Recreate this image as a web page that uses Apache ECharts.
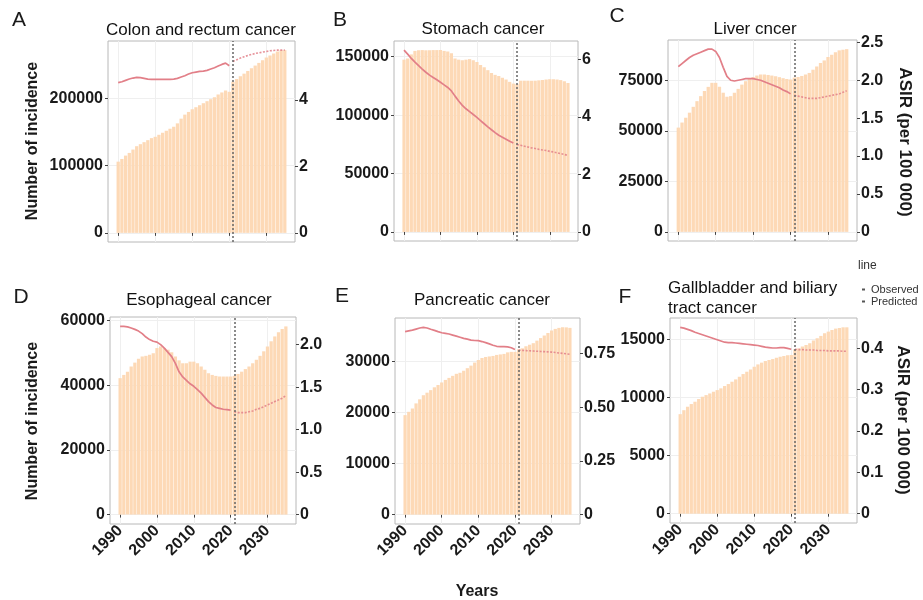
<!DOCTYPE html>
<html>
<head>
<meta charset="utf-8">
<script src="https://cdn.jsdelivr.net/npm/echarts@6/dist/echarts.min.js"></script>
<style>
html,body{margin:0;padding:0;background:#fff;}
#chart{width:923px;height:600px;}
</style>
</head>
<body>
<div id="chart"></div>
<script>
// ---------------- data ----------------
const years = [1990,1991,1992,1993,1994,1995,1996,1997,1998,1999,2000,2001,2002,2003,2004,2005,2006,2007,2008,2009,2010,2011,2012,2013,2014,2015,2016,2017,2018,2019,2020,2021,2022,2023,2024,2025,2026,2027,2028,2029,2030,2031,2032,2033,2034,2035];
const observedYears = [1990,1991,1992,1993,1994,1995,1996,1997,1998,1999,2000,2001,2002,2003,2004,2005,2006,2007,2008,2009,2010,2011,2012,2013,2014,2015,2016,2017,2018,2019,2020];
const predictedYears = [2021,2022,2023,2024,2025,2026,2027,2028,2029,2030,2031,2032,2033,2034,2035];
const dividerYear = 2021;
const xTickValues = [1990,2000,2010,2020,2030];

const panelLetters = ['A','B','C','D','E','F'];
const panelTitles = ['Colon and rectum cancer','Stomach cancer','Liver cncer','Esophageal cancer','Pancreatic cancer','Gallbladder and biliary\ntract cancer'];

// incidence counts (bars)
const colorectalCases = [106000,110000,115000,119000,124000,129000,132000,135000,138000,141000,143000,146000,149000,152000,155000,158000,163000,170000,176000,180000,184000,187000,190000,193000,196000,199000,202000,206000,209000,212000,210000,225000,229000,233000,237000,241000,245000,249000,253000,257000,261000,264000,267000,270000,272000,272000];
const stomachCases = [147500,148500,152000,155000,155500,155700,155500,155500,155700,155700,155700,155000,154500,153000,148500,147500,147000,147500,148000,147000,145500,143000,141000,138500,136000,134500,133500,132000,130500,128500,127000,126500,129500,129500,129500,129500,129500,129800,130000,130500,130800,130800,130500,130000,129000,127500];
const liverCases = [51700,54200,56600,59100,62000,64800,67300,69800,71900,73900,73900,71900,69000,67000,67300,69000,70900,73000,74700,76000,76800,77500,78000,78000,77800,77500,77200,76700,76200,75800,75500,76500,76800,77300,78000,78800,80400,82000,83700,85000,86700,87800,89000,90000,90300,90600];
const esophagealCases = [42200,43200,44200,45800,47000,48200,48900,49100,49400,49900,51500,52000,51500,51000,50200,48900,47700,46800,46800,47300,47300,46800,45800,44800,43700,43200,42900,42700,42700,42700,42700,42900,43500,44200,45000,45800,46800,47900,49100,50500,52000,53600,55100,56400,57400,58200];
const pancreaticCases = [19500,20150,20800,21800,22600,23400,23900,24400,24950,25400,25900,26400,26800,27200,27600,27800,28200,28700,29200,29800,30300,30700,30900,31000,31100,31300,31400,31500,31800,31900,31900,32400,32600,33000,33300,33600,34100,34600,35100,35600,36100,36400,36600,36700,36700,36600];
const gallbladderCases = [8560,8900,9200,9430,9630,9860,10060,10200,10340,10490,10630,10780,10980,11150,11350,11550,11780,12010,12210,12410,12640,12840,12990,13130,13220,13300,13420,13500,13560,13620,13650,14140,14220,14370,14510,14660,14890,15090,15290,15520,15660,15800,15920,15980,16030,16030];

// ASIR (per 100 000), observed 1990-2020 and predicted 2021-2035
const colorectalObserved = [4.52,4.55,4.59,4.63,4.66,4.68,4.67,4.65,4.63,4.62,4.62,4.62,4.62,4.62,4.62,4.63,4.65,4.69,4.73,4.78,4.82,4.84,4.86,4.87,4.89,4.93,4.97,5.02,5.07,5.11,5.03];
const colorectalPredicted = [5.16,5.21,5.26,5.30,5.34,5.37,5.40,5.42,5.44,5.46,5.48,5.49,5.50,5.50,5.50];
const stomachObserved = [6.32,6.18,6.03,5.90,5.78,5.66,5.55,5.45,5.37,5.29,5.20,5.11,5.02,4.90,4.72,4.55,4.40,4.28,4.18,4.08,3.98,3.87,3.76,3.65,3.55,3.45,3.36,3.29,3.22,3.15,3.09];
const stomachPredicted = [3.04,3.01,2.98,2.95,2.92,2.90,2.87,2.85,2.83,2.80,2.78,2.75,2.72,2.69,2.66];
const liverObserved = [2.18,2.22,2.26,2.30,2.33,2.35,2.37,2.39,2.41,2.41,2.38,2.30,2.17,2.05,2.00,1.99,2.00,2.01,2.02,2.02,2.02,2.01,2.00,1.98,1.96,1.94,1.92,1.90,1.87,1.85,1.82];
const liverPredicted = [1.80,1.79,1.78,1.77,1.76,1.76,1.76,1.77,1.78,1.79,1.80,1.81,1.82,1.84,1.86];
const esophagealObserved = [2.215,2.215,2.21,2.196,2.18,2.16,2.13,2.09,2.06,2.04,2.03,2.00,1.96,1.91,1.86,1.78,1.68,1.62,1.58,1.54,1.51,1.47,1.43,1.38,1.33,1.29,1.26,1.25,1.24,1.235,1.23];
const esophagealPredicted = [1.21,1.20,1.20,1.20,1.21,1.22,1.24,1.25,1.27,1.29,1.31,1.33,1.35,1.37,1.40];
const pancreaticObserved = [0.851,0.855,0.858,0.863,0.868,0.871,0.868,0.862,0.857,0.851,0.846,0.843,0.840,0.835,0.830,0.825,0.820,0.816,0.812,0.810,0.809,0.805,0.800,0.794,0.788,0.783,0.781,0.781,0.780,0.776,0.768];
const pancreaticPredicted = [0.765,0.764,0.763,0.762,0.761,0.760,0.759,0.758,0.757,0.756,0.754,0.752,0.750,0.748,0.746];
const gallbladderObserved = [0.451,0.449,0.446,0.443,0.439,0.436,0.433,0.430,0.427,0.424,0.421,0.418,0.415,0.414,0.414,0.413,0.412,0.411,0.410,0.409,0.408,0.407,0.405,0.403,0.402,0.401,0.401,0.402,0.402,0.400,0.398];
const gallbladderPredicted = [0.398,0.397,0.397,0.396,0.396,0.396,0.395,0.395,0.395,0.394,0.394,0.394,0.394,0.393,0.393];

// tick labels
const leftTickLabels = [
  ['0','100000','200000'],
  ['0','50000','100000','150000'],
  ['0','25000','50000','75000'],
  ['0','20000','40000','60000'],
  ['0','10000','20000','30000'],
  ['0','5000','10000','15000']
];
const rightTickLabels = [
  ['0','2','4'],
  ['0','2','4','6'],
  ['0','0.5','1.0','1.5','2.0','2.5'],
  ['0','0.5','1.0','1.5','2.0'],
  ['0','0.25','0.50','0.75'],
  ['0','0.1','0.2','0.3','0.4']
];

const casesList = [colorectalCases, stomachCases, liverCases, esophagealCases, pancreaticCases, gallbladderCases];
const observedList = [colorectalObserved, stomachObserved, liverObserved, esophagealObserved, pancreaticObserved, gallbladderObserved];
const predictedList = [colorectalPredicted, stomachPredicted, liverPredicted, esophagealPredicted, pancreaticPredicted, gallbladderPredicted];

// ---------------- layout / style ----------------
const FONT = 'Liberation Sans, Arial, Helvetica, sans-serif';
const gridBoxes = [
  {left:108, top:41, width:187, height:201},
  {left:394, top:41, width:184, height:200},
  {left:668, top:40, width:189, height:201},
  {left:110, top:317, width:186, height:207},
  {left:395, top:318, width:185, height:206},
  {left:670, top:318, width:187, height:205}
];
const BAR_COLOR = '#FDD9B6';
const LINE_COLOR = '#E27F88';
const TEXT_COLOR = '#1a1a1a';

function labelFormatter(labels){
  return function(v){
    let best = labels[0], bd = Infinity;
    labels.forEach(l => { const d = Math.abs(Number(l) - v); if (d < bd) { bd = d; best = l; } });
    return best;
  };
}

const tickLabelStyle = {fontSize:16, color:TEXT_COLOR, fontFamily:FONT, fontWeight:'bold'};

const grids = [], xAxes = [], yAxes = [], series = [];
for (let i = 0; i < 6; i++) {
  const b = gridBoxes[i];
  grids.push({left:b.left, top:b.top, width:b.width, height:b.height, show:true, backgroundColor:'#fff', borderColor:'#b8b8b8', borderWidth:1, containLabel:false});
  const cases = casesList[i];
  const maxCases = Math.max(...cases);
  const maxRate = Math.max(...observedList[i], ...predictedList[i]);
  const coef = maxCases / maxRate;
  const lmin = -0.05 * maxCases, lmax = 1.05 * maxCases;
  const bottomRow = i >= 3;
  xAxes.push({
    gridIndex:i, type:'value', min:1987.25, max:2037.75,
    axisLine:{show:false},
    axisTick:{show:true, length:3, lineStyle:{color:'#444'}, customValues:xTickValues},
    axisLabel:Object.assign({show:bottomRow, customValues:xTickValues, rotate:45, margin:4, formatter:v => String(Math.round(v))}, tickLabelStyle),
    splitLine:{show:true, lineStyle:{color:'#efefef', width:1}}
  });
  const lv = leftTickLabels[i].map(Number);
  const rv = rightTickLabels[i].map(Number);
  yAxes.push({
    gridIndex:i, type:'value', position:'left', min:lmin, max:lmax,
    axisLine:{show:false},
    axisTick:{show:true, length:3, lineStyle:{color:'#444'}, customValues:lv},
    axisLabel:Object.assign({customValues:lv, margin:5, formatter:labelFormatter(leftTickLabels[i])}, tickLabelStyle),
    splitLine:{show:true, lineStyle:{color:'#efefef', width:1}}
  });
  yAxes.push({
    gridIndex:i, type:'value', position:'right', min:lmin/coef, max:lmax/coef,
    axisLine:{show:false},
    axisTick:{show:true, length:3, lineStyle:{color:'#444'}, customValues:rv},
    axisLabel:Object.assign({customValues:rv, margin:4, formatter:labelFormatter(rightTickLabels[i])}, tickLabelStyle),
    splitLine:{show:false}
  });
  series.push({
    type:'bar', name:'Incidence', xAxisIndex:i, yAxisIndex:2*i,
    data: years.map((y,k) => [y, cases[k]]),
    barWidth:'88%', itemStyle:{color:BAR_COLOR}, z:1, silent:true,
    markLine:{silent:true, symbol:'none', label:{show:false}, lineStyle:{color:'#666', type:[2,2], width:1.5}, data:[{xAxis:dividerYear}], z:5}
  });
  series.push({
    type:'line', name:'Observed', xAxisIndex:i, yAxisIndex:2*i+1,
    data: observedYears.map((y,k) => [y, observedList[i][k]]),
    showSymbol:false, lineStyle:{color:LINE_COLOR, width:1.7}, itemStyle:{color:LINE_COLOR}, z:3, silent:true
  });
  series.push({
    type:'line', name:'Predicted', xAxisIndex:i, yAxisIndex:2*i+1,
    data: predictedYears.map((y,k) => [y, predictedList[i][k]]),
    showSymbol:false, lineStyle:{color:LINE_COLOR, width:1.6, type:[2,1.5], opacity:0.85}, itemStyle:{color:LINE_COLOR}, z:3, silent:true
  });
}

function txt(text, x, y, size, opts){
  opts = opts || {};
  return {
    type:'text', x:x, y:y, rotation:opts.rotation || 0, silent:true, z:10,
    style:{text:text, fill:opts.color || TEXT_COLOR, fontSize:size, fontFamily:FONT, fontWeight:opts.weight || 'normal',
      textAlign:opts.align || 'center', textVerticalAlign:opts.valign || 'middle', align:opts.align || 'center', verticalAlign:opts.valign || 'middle', lineHeight:opts.lineHeight}
  };
}

const letterPos = [[19,20],[340,20],[617,16],[21,297],[342,296],[625,297]];
const titlePos = [[201,30],[483,29],[755,29],[199,300],[482,300]];
const graphics = [];
panelLetters.forEach((l,i) => graphics.push(txt(l, letterPos[i][0], letterPos[i][1], 21)));
for (let i = 0; i < 5; i++) graphics.push(txt(panelTitles[i], titlePos[i][0], titlePos[i][1], 17, {color:'#111'}));
graphics.push(txt(panelTitles[5], 668, 298, 17, {align:'left', lineHeight:20, color:'#111'}));
graphics.push(txt('Number of incidence', 33, 141, 16, {rotation:Math.PI/2, weight:'bold'}));
graphics.push(txt('Number of incidence', 33, 421, 16, {rotation:Math.PI/2, weight:'bold'}));
graphics.push(txt('ASIR (per 100 000)', 905, 142, 17, {rotation:-Math.PI/2, weight:'bold'}));
graphics.push(txt('ASIR (per 100 000)', 903, 420, 17, {rotation:-Math.PI/2, weight:'bold'}));
graphics.push(txt('Years', 477, 592, 16, {weight:'bold'}));
graphics.push(txt('line', 858, 266, 12, {align:'left', color:'#333'}));

const option = {
  animation:false,
  backgroundColor:'#fff',
  grid:grids, xAxis:xAxes, yAxis:yAxes, series:series,
  graphic:graphics,
  legend:{
    show:true, selectedMode:false, orient:'vertical', left:857, top:279,
    itemWidth:3, itemHeight:2, itemGap:1,
    data:[{name:'Observed', icon:'rect'},{name:'Predicted', icon:'rect'}],
    itemStyle:{color:'#555'}, lineStyle:{color:'#555', width:0},
    textStyle:{fontSize:11, color:'#333', fontFamily:FONT, padding:[0,0,0,1]}
  }
};

const chart = echarts.init(document.getElementById('chart'), null, {renderer:'canvas'});
chart.setOption(option);
</script>
</body>
</html>
